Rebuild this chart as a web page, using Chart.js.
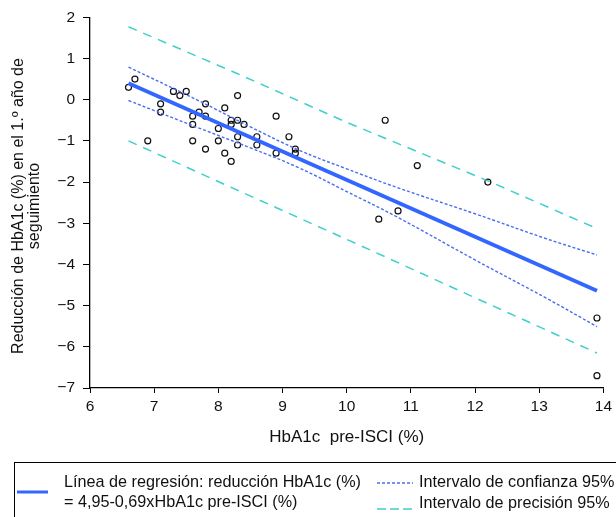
<!DOCTYPE html>
<html>
<head>
<meta charset="utf-8">
<script src="https://cdn.jsdelivr.net/npm/chart.js@4.4.3/dist/chart.umd.min.js"></script>
<style>
  html, body { margin: 0; padding: 0; background: #fff; }
  #wrap { position: relative; width: 616px; height: 517px; }
</style>
</head>
<body>
<div id="wrap"><canvas id="chart" width="616" height="517"></canvas></div>
<script>
// observed points: HbA1c before ISCI vs reduction after 1 year
const hba1cPre = [6.6, 6.7, 6.9, 7.1, 7.1, 7.3, 7.4, 7.5, 7.6, 7.6, 7.6, 7.7, 7.8, 7.8, 7.8,
  8.0, 8.0, 8.1, 8.1, 8.2, 8.2, 8.2, 8.3, 8.3, 8.3, 8.3, 8.4, 8.6, 8.6, 8.9, 8.9,
  9.1, 9.2, 9.2, 10.5, 10.6, 10.8, 11.1, 12.2, 13.9, 13.9];
const reduction = [0.3, 0.5, -1.0, -0.1, -0.3, 0.2, 0.1, 0.2, -0.4, -0.6, -1.0, -0.3, -0.1, -0.4, -1.2,
  -0.7, -1.0, -0.2, -1.3, -0.5, -0.6, -1.5, 0.1, -0.5, -0.9, -1.1, -0.6, -0.9, -1.1, -0.4, -1.3,
  -0.9, -1.2, -1.3, -2.9, -0.5, -2.7, -1.6, -2.0, -5.3, -6.7];

// regression line
const regX = [6.6, 13.9];
const regY = [0.40, -4.64];

// 95% confidence band
const ciX = [6.6, 7.7, 8.5, 9.25, 10.0, 10.8, 12.0, 13.1, 13.9];
const ciUpper = [0.79, -0.03, -0.66, -1.22, -1.68, -2.14, -2.77, -3.37, -3.77];
const ciLower = [-0.02, -0.69, -1.17, -1.65, -2.23, -2.86, -3.89, -4.81, -5.51];

// 95% prediction band
const piX = [6.6, 8.3, 10.0, 12.2, 13.9];
const piUpper = [1.77, 0.63, -0.55, -1.97, -3.13];
const piLower = [-1.0, -2.20, -3.39, -4.95, -6.15];

const xTicks = [6, 7, 8, 9, 10, 11, 12, 13, 14];
const yTicks = [2, 1, 0, -1, -2, -3, -4, -5, -6, -7];

const yTitle = ['Reducción de HbA1c (%) en el 1.º año de', 'seguimiento'];
const xTitle = 'HbA1c  pre-ISCI (%)';
const legendLabels = [
  ['Línea de regresión: reducción HbA1c (%)', '= 4,95-0,69xHbA1c pre-ISCI (%)'],
  'Intervalo de confianza 95%',
  'Intervalo de precisión 95%'
];

const FONT = '"Liberation Sans", Arial, Helvetica, sans-serif';
const REG_COLOR = '#3366ff';
const CI_COLOR = '#4a6cf0';
const PI_COLOR = '#3fd0cc';

function pts(xs, ys) {
  return xs.map((x, i) => ({ x: x, y: ys[i] }));
}
const minus = v => String(v).replace('-', '\u2212');

// y title and legend box, drawn on the same canvas
const extras = {
  id: 'extras',
  afterDraw(chart) {
    const ctx = chart.ctx;
    ctx.save();
    ctx.fillStyle = '#111';
    ctx.font = '16px ' + FONT;
    ctx.textAlign = 'center';
    ctx.textBaseline = 'middle';
    ctx.translate(19, 206);
    ctx.rotate(-Math.PI / 2);
    ctx.fillText(yTitle[0], 0, 0);
    ctx.fillText(yTitle[1], 0, 16);
    ctx.restore();

    ctx.save();
    ctx.strokeStyle = '#000';
    ctx.lineWidth = 1;
    ctx.strokeRect(14.5, 462.5, 620, 80);

    ctx.lineWidth = 3;
    ctx.strokeStyle = REG_COLOR;
    ctx.beginPath(); ctx.moveTo(17, 492); ctx.lineTo(48, 492); ctx.stroke();

    ctx.lineWidth = 1.3;
    ctx.strokeStyle = CI_COLOR;
    ctx.setLineDash([3, 2]);
    ctx.beginPath(); ctx.moveTo(377, 483); ctx.lineTo(413, 483); ctx.stroke();

    ctx.lineWidth = 1.5;
    ctx.strokeStyle = PI_COLOR;
    ctx.setLineDash([9, 4]);
    ctx.beginPath(); ctx.moveTo(377, 509); ctx.lineTo(413, 509); ctx.stroke();
    ctx.setLineDash([]);

    ctx.fillStyle = '#111';
    ctx.font = '16.2px ' + FONT;
    ctx.textBaseline = 'middle';
    ctx.textAlign = 'left';
    ctx.fillText(legendLabels[0][0], 64, 483);
    ctx.fillText(legendLabels[0][1], 64, 503);
    ctx.fillText(legendLabels[1], 419, 483);
    ctx.fillText(legendLabels[2], 419, 504);
    ctx.restore();
  }
};

new Chart(document.getElementById('chart'), {
  type: 'scatter',
  data: {
    datasets: [
      {
        label: 'pi-up', data: pts(piX, piUpper), showLine: true, pointRadius: 0,
        borderColor: PI_COLOR, borderWidth: 1.5, borderDash: [9, 7]
      },
      {
        label: 'pi-low', data: pts(piX, piLower), showLine: true, pointRadius: 0,
        borderColor: PI_COLOR, borderWidth: 1.5, borderDash: [9, 7]
      },
      {
        label: 'ci-up', data: pts(ciX, ciUpper), showLine: true, pointRadius: 0,
        borderColor: CI_COLOR, borderWidth: 1.4, borderDash: [3, 2], tension: 0.4
      },
      {
        label: 'ci-low', data: pts(ciX, ciLower), showLine: true, pointRadius: 0,
        borderColor: CI_COLOR, borderWidth: 1.4, borderDash: [3, 2], tension: 0.4
      },
      {
        label: 'reg', data: pts(regX, regY), showLine: true, pointRadius: 0,
        borderColor: REG_COLOR, borderWidth: 3.8
      },
      {
        label: 'obs', data: pts(hba1cPre, reduction),
        pointRadius: 3, pointBorderWidth: 1.2,
        pointBorderColor: '#111', pointBackgroundColor: 'rgba(255,255,255,0)'
      }
    ]
  },
  options: {
    responsive: false,
    animation: false,
    events: [],
    layout: { padding: { top: 16, right: 9, left: 0, bottom: 69 } },
    plugins: { legend: { display: false }, tooltip: { enabled: false } },
    scales: {
      x: {
        type: 'linear', min: 6, max: 14,
        afterBuildTicks: s => { s.ticks = xTicks.map(v => ({ value: v })); },
        afterFit: s => { s.height = 60; },
        grid: { drawOnChartArea: false, drawTicks: true, tickLength: 5, color: '#000' },
        border: { color: '#000', width: 1.3 },
        ticks: { color: '#111', padding: 4, font: { family: FONT, size: 15.5 }, callback: v => minus(v) },
        title: { display: true, text: xTitle, color: '#111', padding: 0,
          font: { family: FONT, size: 17 } }
      },
      y: {
        type: 'linear', min: -7, max: 2,
        afterBuildTicks: s => { s.ticks = yTicks.map(v => ({ value: v })); },
        afterFit: s => { s.width = 90; },
        grid: { drawOnChartArea: false, drawTicks: true, tickLength: 7, color: '#000' },
        border: { color: '#000', width: 1.3 },
        ticks: { color: '#111', padding: 8, font: { family: FONT, size: 15.5 }, callback: v => minus(v) },
        title: { display: false }
      }
    }
  },
  plugins: [extras]
});
</script>
</body>
</html>
